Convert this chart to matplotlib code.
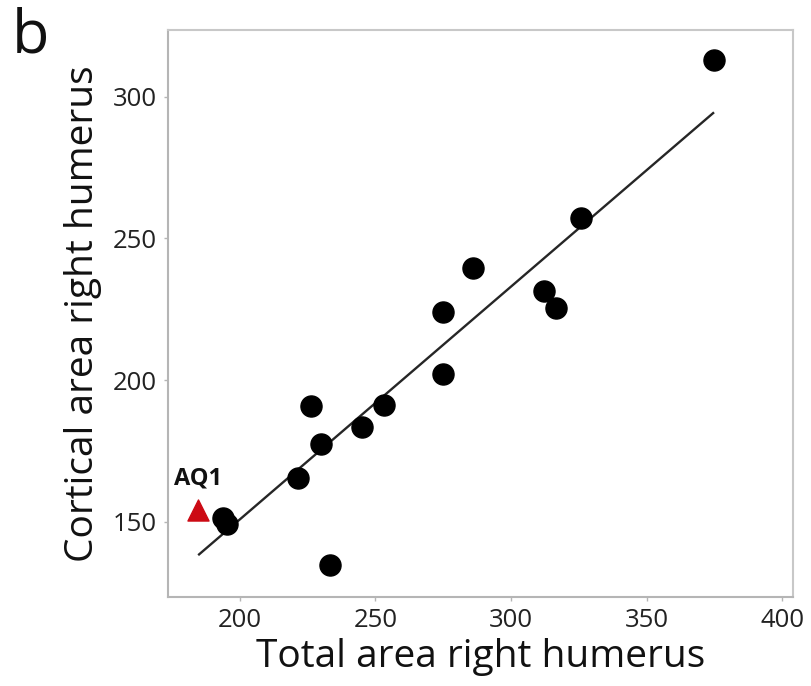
import numpy as np
import matplotlib.pyplot as plt

plt.rcParams['font.family'] = ['Open Sans', 'DejaVu Sans']

# humerus cross-section areas
total_area = [374.9, 325.8, 286.0, 312.2, 316.6, 274.9, 274.9, 253.1, 245.0,
              226.2, 229.9, 221.4, 193.7, 195.2, 233.2]
cortical_area = [312.9, 257.1, 239.5, 231.3, 225.3, 224.0, 202.0, 191.1, 183.4,
                 190.7, 177.3, 165.3, 151.2, 149.3, 134.7]

# AQ1 specimen
aq1_total = 184.5
aq1_cortical = 154.0

# fitted line: cortical = slope * total + intercept
fit_slope = 0.822
fit_intercept = -13.6
fit_range = [185.0, 374.5]

fig = plt.figure(figsize=(8.11, 6.86), dpi=100)
ax = fig.add_axes([0.207, 0.130, 0.771, 0.826])

xs = np.array(fit_range)
ax.plot(xs, fit_slope * xs + fit_intercept, color='#262626', lw=1.7, zorder=2)
ax.scatter(total_area, cortical_area, s=230, color='black', zorder=3)
ax.scatter([aq1_total], [aq1_cortical], marker='^', s=230, color='#cc0a14', zorder=3)
ax.text(aq1_total, aq1_cortical + 7, 'AQ1', ha='center', va='bottom',
        fontsize=17, fontweight='bold', color='#111111')

ax.set_xlim(173.5, 404)
ax.set_ylim(123.5, 323.5)
ax.set_xticks([200, 250, 300, 350, 400])
ax.set_yticks([150, 200, 250, 300])

for sp in ax.spines.values():
    sp.set_color('#b5b5b5')
    sp.set_linewidth(1.5)
ax.spines['top'].set_color('#c8c8c8')
ax.spines['right'].set_color('#c8c8c8')
ax.tick_params(direction='out', length=3, width=1, color='#b5b5b5',
               labelsize=18.5, labelcolor='#222222', pad=5)

ax.set_xlabel('Total area right humerus', fontsize=28, color='#111111', labelpad=4)
ax.set_ylabel('Cortical area right humerus', fontsize=28, color='#111111', labelpad=8)

fig.text(0.015, 0.99, 'b', fontsize=44, va='top', ha='left', color='#111111')

fig.savefig('out.png', dpi=100, facecolor='white')
